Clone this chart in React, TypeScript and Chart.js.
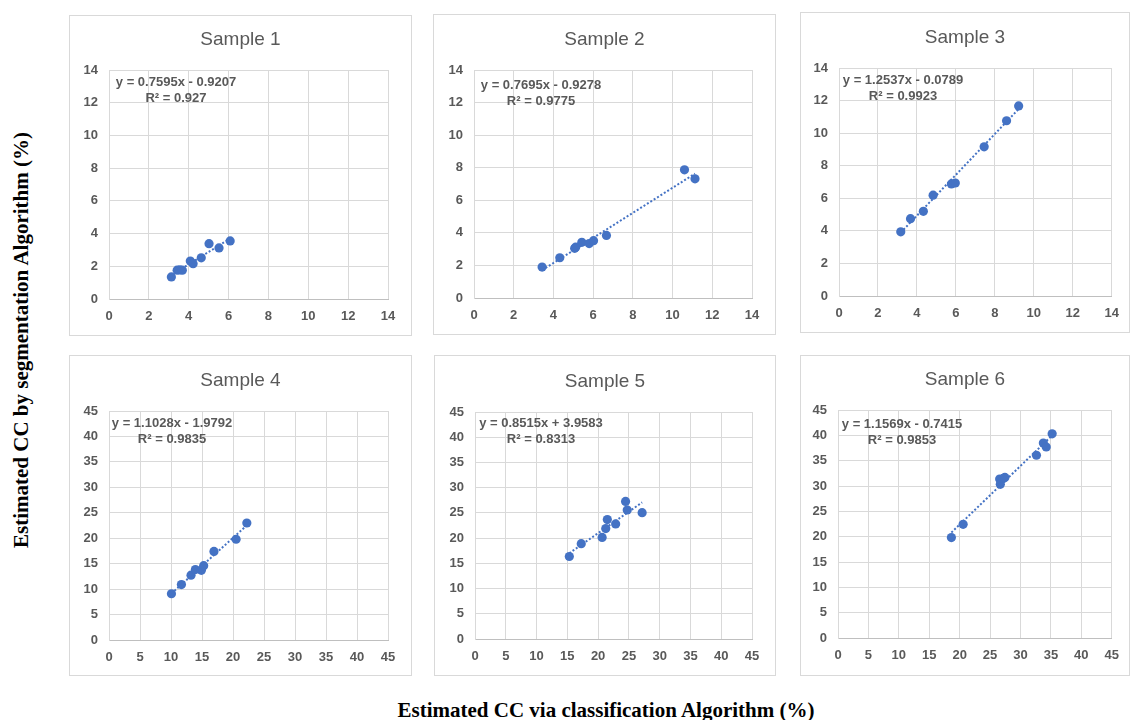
import React, { useEffect, useRef } from 'react';
import { Chart, registerables } from 'chart.js';

Chart.register(...registerables);

// ---------- DATA ----------
const sampleTitles = ['Sample 1', 'Sample 2', 'Sample 3', 'Sample 4', 'Sample 5', 'Sample 6'];

const sample1X = [3.13, 3.42, 3.55, 3.68, 4.08, 4.22, 4.63, 5.02, 5.52, 6.08];
const sample1Y = [1.35, 1.76, 1.78, 1.76, 2.32, 2.16, 2.52, 3.38, 3.12, 3.55];

const sample2X = [3.43, 4.32, 5.07, 5.12, 5.43, 5.8, 6.02, 6.67, 10.6, 11.13];
const sample2Y = [1.9, 2.47, 3.05, 3.12, 3.42, 3.34, 3.52, 3.84, 7.87, 7.32];

const sample3X = [3.17, 3.67, 4.33, 4.83, 5.77, 5.97, 7.45, 8.6, 9.22];
const sample3Y = [3.94, 4.75, 5.2, 6.19, 6.88, 6.94, 9.16, 10.76, 11.67];

const sample4X = [10.07, 11.68, 13.23, 13.93, 14.9, 15.27, 16.93, 20.5, 22.23];
const sample4Y = [9.09, 10.9, 12.73, 13.83, 13.7, 14.6, 17.4, 19.8, 22.99];

const sample5X = [15.32, 17.26, 20.65, 21.24, 21.5, 22.85, 24.46, 24.73, 27.15];
const sample5Y = [16.35, 18.9, 20.14, 21.9, 23.67, 22.82, 27.27, 25.57, 25.05];

const sample6X = [18.64, 20.57, 26.57, 26.68, 27.16, 27.43, 32.62, 33.75, 34.23, 35.2];
const sample6Y = [19.83, 22.44, 31.38, 30.33, 31.5, 31.7, 36.07, 38.49, 37.7, 40.3];

const samplesX = [sample1X, sample2X, sample3X, sample4X, sample5X, sample6X];
const samplesY = [sample1Y, sample2Y, sample3Y, sample4Y, sample5Y, sample6Y];

const axisMax = [14, 14, 14, 45, 45, 45];
const axisStep = [2, 2, 2, 5, 5, 5];

const slopes = [0.7595, 0.7695, 1.2537, 1.1028, 0.8515, 1.1569];
const intercepts = [-0.9207, -0.9278, -0.0789, -1.9792, 3.9583, -0.7415];
const equationLabels = [
  'y = 0.7595x - 0.9207',
  'y = 0.7695x - 0.9278',
  'y = 1.2537x - 0.0789',
  'y = 1.1028x - 1.9792',
  'y = 0.8515x + 3.9583',
  'y = 1.1569x - 0.7415',
];
const r2Labels = ['R² = 0.927', 'R² = 0.9775', 'R² = 0.9923', 'R² = 0.9835', 'R² = 0.8313', 'R² = 0.9853'];

const yAxisTitle = 'Estimated CC by segmentation Algorithm (%)';
const xAxisTitle = 'Estimated CC via classification Algorithm (%)';

// ---------- LAYOUT ----------
const panelLayout = [
  { left: 69, top: 15, w: 343, h: 321, pl: 39, pr: 23, pt: 54, pb: 36, ex: 67, ey: 12 },
  { left: 433, top: 14, w: 343, h: 321, pl: 40, pr: 23, pt: 55, pb: 36, ex: 67, ey: 15 },
  { left: 800, top: 12, w: 330, h: 321, pl: 38, pr: 12, pt: 55, pb: 36, ex: 64, ey: 12 },
  { left: 69, top: 355, w: 343, h: 321, pl: 39, pr: 23, pt: 55, pb: 35, ex: 63, ey: 12 },
  { left: 434, top: 355, w: 342, h: 321, pl: 40, pr: 23, pt: 56, pb: 36, ex: 66, ey: 11 },
  { left: 800, top: 355, w: 330, h: 321, pl: 37, pr: 13, pt: 54, pb: 37, ex: 64, ey: 14 },
];

const FONT = '"Liberation Sans", Arial, sans-serif';
const GREY = '#595959';
const BLUE = '#4472C4';
const Y_W = 30;
const X_H = 24;

function Panel({ idx }: { idx: number }) {
  const ref = useRef<HTMLCanvasElement | null>(null);
  const lay = panelLayout[idx];
  const cw = lay.w - 2;
  const ch = lay.h - 2;

  useEffect(() => {
    if (!ref.current) return;
    const xs = samplesX[idx];
    const ys = samplesY[idx];
    const pts = xs.map((x, i) => ({ x, y: ys[i] }));
    const xmin = Math.min(...xs);
    const xmax = Math.max(...xs);
    const trend = [
      { x: xmin, y: slopes[idx] * xmin + intercepts[idx] },
      { x: xmax, y: slopes[idx] * xmax + intercepts[idx] },
    ];

    const textPlugin = {
      id: 'panelText' + idx,
      afterDraw(chart: any) {
        const { ctx, chartArea } = chart;
        ctx.save();
        ctx.fillStyle = GREY;
        ctx.textAlign = 'center';
        ctx.textBaseline = 'middle';
        ctx.font = `19px ${FONT}`;
        ctx.fillText(sampleTitles[idx], chart.width / 2, chartArea.top - 30);
        ctx.font = `bold 13px ${FONT}`;
        const cx = chartArea.left + lay.ex;
        ctx.fillText(equationLabels[idx], cx, chartArea.top + lay.ey);
        ctx.fillText(r2Labels[idx], cx, chartArea.top + lay.ey + 16);
        ctx.restore();
      },
    };

    const tickFont = { family: FONT, size: 13, weight: 'bold' as const };

    const chart = new Chart(ref.current, {
      type: 'scatter',
      data: {
        datasets: [
          {
            type: 'scatter',
            data: pts,
            backgroundColor: BLUE,
            borderColor: BLUE,
            pointRadius: 4.6,
            pointBorderWidth: 0,
          } as any,
          {
            type: 'line',
            data: trend,
            borderColor: BLUE,
            borderWidth: 2,
            borderDash: [2, 2],
            pointRadius: 0,
            fill: false,
            tension: 0,
          } as any,
        ],
      },
      options: {
        responsive: false,
        animation: false,
        layout: {
          padding: { left: lay.pl - Y_W, right: lay.pr, top: lay.pt, bottom: lay.pb - X_H },
        },
        plugins: {
          legend: { display: false },
          tooltip: { enabled: false },
          title: { display: false },
        },
        scales: {
          x: {
            type: 'linear',
            min: 0,
            max: axisMax[idx],
            ticks: { stepSize: axisStep[idx], color: GREY, font: tickFont, padding: 10 },
            grid: { color: '#d9d9d9', drawTicks: false, lineWidth: 1 },
            border: { color: '#bfbfbf' },
            afterFit: (s: any) => {
              s.height = X_H;
            },
          },
          y: {
            type: 'linear',
            min: 0,
            max: axisMax[idx],
            ticks: { stepSize: axisStep[idx], color: GREY, font: tickFont, padding: 11 },
            grid: { color: '#d9d9d9', drawTicks: false, lineWidth: 1 },
            border: { color: '#d9d9d9' },
            afterFit: (s: any) => {
              s.width = Y_W;
            },
          },
        },
      } as any,
      plugins: [textPlugin],
    });
    return () => chart.destroy();
  }, [idx]);

  return (
    <div
      style={{
        position: 'absolute',
        left: lay.left,
        top: lay.top,
        width: lay.w,
        height: lay.h,
        border: '1px solid #d9d9d9',
        boxSizing: 'border-box',
        background: '#fff',
      }}
    >
      <canvas ref={ref} width={cw} height={ch} style={{ display: 'block', width: cw, height: ch }} />
    </div>
  );
}

export default function App() {
  return (
    <div
      style={{
        position: 'fixed',
        left: 0,
        top: 0,
        width: 1131,
        height: 720,
        background: '#fff',
        overflow: 'hidden',
      }}
    >
      {panelLayout.map((_, i) => (
        <Panel key={i} idx={i} />
      ))}
      <div
        style={{
          position: 'absolute',
          left: 22 - 300,
          top: 340 - 13,
          width: 600,
          height: 26,
          lineHeight: '26px',
          textAlign: 'center',
          transform: 'rotate(-90deg)',
          font: 'bold 21px "Liberation Serif", "Times New Roman", serif',
          color: '#000',
          whiteSpace: 'nowrap',
        }}
      >
        {yAxisTitle}
      </div>
      <div
        style={{
          position: 'absolute',
          left: 606 - 300,
          top: 711 - 13,
          width: 600,
          height: 26,
          lineHeight: '26px',
          textAlign: 'center',
          font: 'bold 21px "Liberation Serif", "Times New Roman", serif',
          color: '#000',
          whiteSpace: 'nowrap',
        }}
      >
        {xAxisTitle}
      </div>
    </div>
  );
}
